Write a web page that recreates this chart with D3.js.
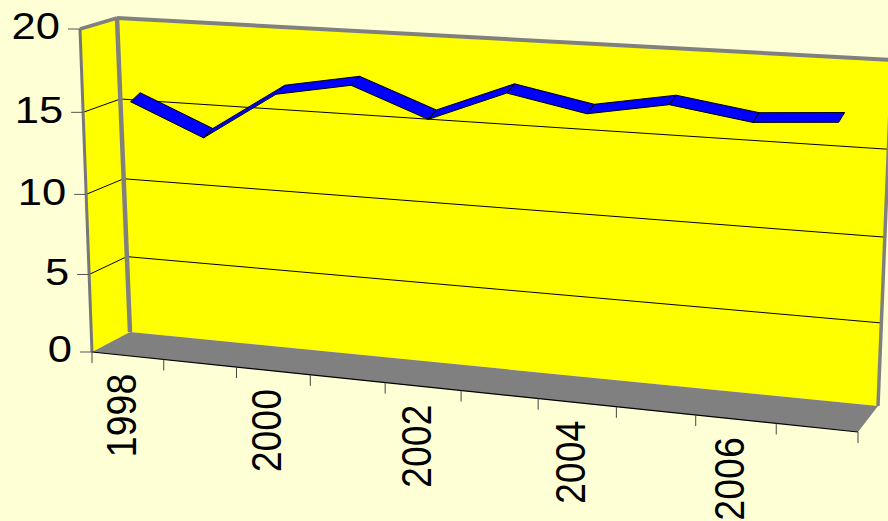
<!DOCTYPE html>
<html>
<head>
<meta charset="utf-8">
<script src="https://cdn.jsdelivr.net/npm/d3@7"></script>
<style>
html, body { margin: 0; padding: 0; background: #ffffd5; overflow: hidden; }
svg { display: block; }
text { font-family: "Liberation Sans", Arial, sans-serif; font-size: 37.5px; fill: #000; }
</style>
</head>
<body>
<svg id="chart" width="888" height="521"></svg>
<script>
// values
const years = [1998, 1999, 2000, 2001, 2002, 2003, 2004, 2005, 2006, 2007];
const values = [15.5, 13.6, 16.5, 17.3, 15.6, 17.4, 16.5, 17.3, 16.6, 16.9];
const yTicks = [0, 5, 10, 15, 20];
const yearLabels = [1998, 2000, 2002, 2004, 2006];

const svg = d3.select('#chart');

// corners of the 3D box on screen: [x, y], f = front, b = back
const box = {
  fl0: [92, 352],  fr0: [858, 432], bl0: [130, 332], br0: [878, 406],
  fl1: [80, 29],   fr1: [871, 72],  bl1: [117, 18],  br1: [892, 60]
};

const mix = (a, b, t) => [a[0] + (b[0] - a[0]) * t, a[1] + (b[1] - a[1]) * t];

// u along categories, v up the value axis, w into the depth, k = foreshortening
function project(u, v, w, k = 0.93) {
  const s = k * u / (1 - (1 - k) * u);
  const bottom = mix(mix(box.fl0, box.fr0, s), mix(box.bl0, box.br0, s), w);
  const top = mix(mix(box.fl1, box.fr1, s), mix(box.bl1, box.br1, s), w);
  return mix(bottom, top, v);
}

const yScale = d3.scaleLinear().domain(yTicks).range([0, 0.24, 0.488, 0.742, 1]);
const bandScale = d3.scaleLinear().domain([0, years.length]).range([0, 1]);
const lineScale = d3.scaleLinear().domain([1998, 2007]).range([0.0492, 0.9565]);
const lineFront = 0.35, lineBack = 0.62, lineLift = 0.017, lineK = 0.9;

const path = d3.line();
const poly = pts => path(pts) + 'Z';

// walls and floor
svg.append('path').attr('d', poly([box.fl0, box.bl0, box.bl1, box.fl1])).attr('fill', '#ffff00');
svg.append('path').attr('d', poly([box.bl0, box.br0, box.br1, box.bl1])).attr('fill', '#ffff00');
svg.append('path').attr('d', poly([box.fl0, box.fr0, box.br0, box.bl0])).attr('fill', '#808080');

// gridlines
yTicks.filter(d => d > 0 && d < 20).forEach(d => {
  const v = yScale(d);
  svg.append('path')
    .attr('d', path([project(0, v, 0), project(0, v, 1), project(1, v, 1)]))
    .attr('fill', 'none').attr('stroke', '#000').attr('stroke-width', 1);
});

// wall borders
const edge = (a, b, w, c) => svg.append('line')
  .attr('x1', a[0]).attr('y1', a[1]).attr('x2', b[0]).attr('y2', b[1])
  .attr('stroke', c || '#808080').attr('stroke-width', w);
edge(box.fl1, box.bl1, 3.5);
edge(box.bl1, box.br1, 4);
edge(box.bl1, box.bl0, 4.5);
edge(box.fl1, box.fl0, 3, '#777');
edge(box.br0, box.br1, 3.5);
edge(box.fl0, box.fr0, 1.2, '#000');

// y axis ticks and labels (the original text is stretched sideways)
yTicks.forEach(d => {
  const p = project(0, yScale(d), 0);
  svg.append('line')
    .attr('x1', p[0] - 12).attr('x2', p[0]).attr('y1', p[1]).attr('y2', p[1])
    .attr('stroke', '#555').attr('stroke-width', 1);
  svg.append('text')
    .attr('transform', `translate(${p[0] - 20},${p[1] - 3}) scale(1.16,1)`)
    .attr('dy', '0.358em').attr('text-anchor', 'end')
    .text(d);
});

// x axis ticks
d3.range(years.length + 1).forEach(i => {
  const p = project(bandScale(i), 0, 0);
  svg.append('line')
    .attr('x1', p[0]).attr('x2', p[0]).attr('y1', p[1]).attr('y2', p[1] + 11)
    .attr('stroke', '#444').attr('stroke-width', 1);
});

// x labels, rotated, every second year
yearLabels.forEach(y => {
  const p = project(bandScale(years.indexOf(y) + 0.5), 0, 0);
  svg.append('text')
    .attr('transform', `translate(${p[0] - 7},${p[1] + 18}) scale(1.12,1) rotate(-90)`)
    .attr('dy', '0.358em').attr('text-anchor', 'end')
    .text(y);
});

// ribbon, one face per segment
const front = years.map((y, i) => project(lineScale(y), yScale(values[i]), lineFront, lineK));
const back = years.map((y, i) => project(lineScale(y), yScale(values[i]) + lineLift, lineBack, lineK));
svg.append('g').selectAll('path')
  .data(d3.range(years.length - 1))
  .join('path')
  .attr('d', i => poly([front[i], front[i + 1], back[i + 1], back[i]]))
  .attr('fill', '#0000ff')
  .attr('stroke', '#000')
  .attr('stroke-width', 1)
  .attr('stroke-linejoin', 'round');
</script>
</body>
</html>
